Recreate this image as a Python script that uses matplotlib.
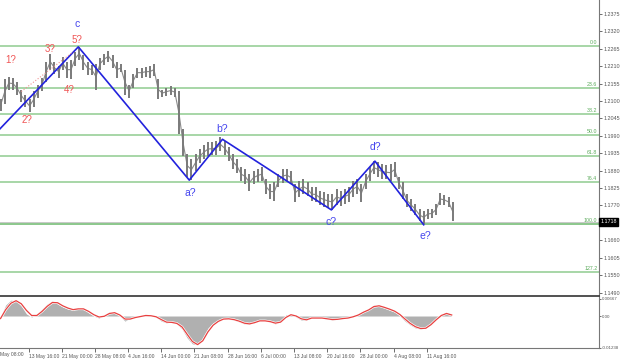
import numpy as np
import matplotlib
matplotlib.use('Agg')
import matplotlib.pyplot as plt
import matplotlib.transforms as mtransforms

# H4 bars, one sample every 4 bars (high / low)
bar_step = 4
highs = [1.2105, 1.2168, 1.2177, 1.2174, 1.2161, 1.2136, 1.2120, 1.2105, 1.2130, 1.2152,
         1.2174, 1.2224, 1.2249, 1.2224, 1.2212, 1.2240, 1.2224, 1.2230, 1.2256, 1.2271,
         1.2246, 1.2224, 1.2215, 1.2218, 1.2237, 1.2249, 1.2259, 1.2246, 1.2224, 1.2218,
         1.2199, 1.2152, 1.2186, 1.2205, 1.2205, 1.2208, 1.2212, 1.2218, 1.2168, 1.2136,
         1.2142, 1.2146, 1.2142, 1.2130, 1.2010, 1.1932, 1.1916, 1.1932, 1.1948, 1.1960,
         1.1970, 1.1970, 1.1973, 1.1985, 1.1973, 1.1954, 1.1932, 1.1916, 1.1891, 1.1885,
         1.1869, 1.1878, 1.1885, 1.1891, 1.1853, 1.1838, 1.1844, 1.1869, 1.1885, 1.1885,
         1.1878, 1.1838, 1.1847, 1.1853, 1.1844, 1.1828, 1.1828, 1.1816, 1.1812, 1.1806,
         1.1806, 1.1822, 1.1816, 1.1822, 1.1828, 1.1847, 1.1853, 1.1838, 1.1869, 1.1891,
         1.1910, 1.1907, 1.1900, 1.1897, 1.1900, 1.1907, 1.1860, 1.1844, 1.1806, 1.1790,
         1.1775, 1.1759, 1.1753, 1.1759, 1.1759, 1.1775, 1.1809, 1.1803, 1.1797, 1.1781]
lows = [1.2067, 1.2089, 1.2136, 1.2136, 1.2120, 1.2098, 1.2080, 1.2064, 1.2080, 1.2111,
        1.2130, 1.2161, 1.2199, 1.2186, 1.2174, 1.2199, 1.2174, 1.2168, 1.2212, 1.2230,
        1.2199, 1.2183, 1.2183, 1.2136, 1.2199, 1.2215, 1.2224, 1.2205, 1.2174, 1.2190,
        1.2120, 1.2111, 1.2142, 1.2174, 1.2174, 1.2177, 1.2174, 1.2180, 1.2105, 1.2114,
        1.2117, 1.2120, 1.2114, 1.1995, 1.1926, 1.1860, 1.1850, 1.1878, 1.1904, 1.1916,
        1.1926, 1.1929, 1.1929, 1.1941, 1.1929, 1.1910, 1.1885, 1.1872, 1.1847, 1.1838,
        1.1816, 1.1838, 1.1844, 1.1847, 1.1806, 1.1790, 1.1784, 1.1828, 1.1841, 1.1847,
        1.1838, 1.1781, 1.1797, 1.1806, 1.1800, 1.1784, 1.1781, 1.1772, 1.1765, 1.1762,
        1.1756, 1.1772, 1.1768, 1.1775, 1.1781, 1.1797, 1.1806, 1.1781, 1.1822, 1.1847,
        1.1869, 1.1860, 1.1853, 1.1853, 1.1847, 1.1860, 1.1822, 1.1790, 1.1765, 1.1753,
        1.1740, 1.1721, 1.1712, 1.1727, 1.1731, 1.1740, 1.1772, 1.1772, 1.1765, 1.1721]
last_price = 1.1718

# wave count (bar index, price)
wave_x = [-2, 75, 182, 214, 319, 361, 408]
wave_y = [1.2007, 1.2271, 1.1850, 1.1979, 1.1756, 1.1910, 1.1709]
wave_labels = ['c', 'a?', 'b?', 'c?', 'd?', 'e?']
wave_lab_x = [74, 183, 214, 319, 361, 410]
wave_lab_y = [1.2344, 1.1809, 1.2010, 1.1718, 1.1954, 1.1674]
sub_labels = ['1?', '2?', '3?', '4?', '5?']
sub_lab_x = [10, 26, 48, 66, 74]
sub_lab_y = [1.2230, 1.2039, 1.2265, 1.2136, 1.2293]
chan_x = [20, 70]
chan_y = [1.2130, 1.2255]

# fibonacci grid
fib_high = 1.2274
fib_low = 1.1712
fib_levels = [0.0, 23.6, 38.2, 50.0, 61.8, 76.4, 100.0, 127.2]

price_ticks = [1.2375, 1.2320, 1.2265, 1.2210, 1.2155, 1.2100, 1.2045, 1.1990, 1.1935,
               1.1880, 1.1825, 1.1770, 1.1660, 1.1605, 1.1550, 1.1495]
price_tick_labels = ['1.2375', '1.2320', '1.2265', '1.2210', '1.2155', '1.2100', '1.2045',
                     '1.1990', '1.1935', '1.1880', '1.1825', '1.1770', '1.1660', '1.1605',
                     '1.1550', '1.1490']

# MACD, one sample every 5 bars
osc_step = 5
macd_hist = [-0.0004, 0.0043, 0.0062, 0.0059, 0.0039, 0.0008, -0.0004, 0.0008, 0.0027, 0.0047,
             0.0059, 0.0047, 0.0035, 0.0027, 0.0023, 0.0031, 0.0027, 0.0012, 0.0000, -0.0008,
             0.0004, 0.0016, 0.0012, 0.0000, -0.0020, -0.0008, -0.0004, 0.0000, 0.0004, 0.0000,
             -0.0004, -0.0020, -0.0027, -0.0023, -0.0031, -0.0051, -0.0086, -0.0109, -0.0113, -0.0086,
             -0.0047, -0.0027, -0.0016, -0.0008, -0.0012, -0.0016, -0.0023, -0.0031, -0.0031, -0.0023,
             -0.0016, -0.0020, -0.0023, -0.0031, -0.0020, 0.0004, 0.0008, -0.0004, -0.0016, -0.0016,
             -0.0004, -0.0008, -0.0008, -0.0012, -0.0016, -0.0012, -0.0008, -0.0008, 0.0000, 0.0008,
             0.0020, 0.0027, 0.0043, 0.0039, 0.0031, 0.0023, 0.0016, 0.0000, -0.0020, -0.0035,
             -0.0047, -0.0051, -0.0047, -0.0027, -0.0008, 0.0008, 0.0012, 0.0000]
macd_signal = [-0.0010, 0.0025, 0.0050, 0.0060, 0.0048, 0.0022, 0.0002, 0.0002, 0.0018, 0.0038,
               0.0053, 0.0052, 0.0040, 0.0031, 0.0025, 0.0028, 0.0028, 0.0018, 0.0005, -0.0004,
               -0.0001, 0.0010, 0.0013, 0.0004, -0.0012, -0.0012, -0.0006, -0.0002, 0.0002, 0.0001,
               -0.0003, -0.0014, -0.0024, -0.0025, -0.0029, -0.0043, -0.0072, -0.0100, -0.0112, -0.0097,
               -0.0062, -0.0036, -0.0021, -0.0012, -0.0011, -0.0014, -0.0020, -0.0028, -0.0031, -0.0026,
               -0.0019, -0.0019, -0.0022, -0.0028, -0.0024, -0.0006, 0.0005, 0.0000, -0.0011, -0.0015,
               -0.0008, -0.0008, -0.0008, -0.0011, -0.0014, -0.0013, -0.0010, -0.0008, -0.0003, 0.0004,
               0.0015, 0.0024, 0.0037, 0.0040, 0.0034, 0.0027, 0.0019, 0.0006, -0.0012, -0.0029,
               -0.0042, -0.0049, -0.0048, -0.0034, -0.0015, 0.0002, 0.0010, 0.0004]
osc_ticks = [0.00667, 0.0, -0.01238]
osc_tick_labels = ['0.00667', '0.00', '-0.01238']

time_labels = ['13 May 16:00', '21 May 00:00', '28 May 08:00', '4 Jun 16:00', '14 Jun 00:00',
               '21 Jun 08:00', '28 Jun 16:00', '6 Jul 00:00', '13 Jul 08:00', '20 Jul 16:00',
               '28 Jul 00:00', '4 Aug 08:00', '11 Aug 16:00']
time_ticks = [27 + 32 * k for k in range(len(time_labels))]

plt.rcParams['font.family'] = ['Liberation Sans', 'DejaVu Sans']

axis_col = '#555555'
fib_col = '#8fcc8f'
wave_col = '#2222dd'
lab_blue = '#4444ee'
lab_red = '#f05555'
tick_fs = 3.9

fig = plt.figure(figsize=(6.2, 3.61), dpi=100)
ax = fig.add_axes([0, 0.18006, 0.9661, 0.81994])
ax2 = fig.add_axes([0, 0.03601, 0.9661, 0.14128], sharex=ax)

# price bars
bx = np.arange(len(highs)) * bar_step
mid = (np.array(highs) + np.array(lows)) / 2
ax.plot(bx, mid, color='#8a8a8a', lw=0.8, zorder=2)
ax.vlines(bx, lows, highs, color='#7a7a7a', lw=1.4, zorder=3)

# fibonacci levels
trans = mtransforms.blended_transform_factory(ax.transAxes, ax.transData)
for lv in fib_levels:
    p = fib_high - lv / 100 * (fib_high - fib_low)
    ax.axhline(p, color=fib_col if lv != 100.0 else '#6cb86c', lw=1.1, zorder=1)
    ax.text(0.997, p + 0.0003, f'{lv:.1f}', transform=trans, ha='right', va='bottom',
            fontsize=3.8, color='#5aaa5a')

ax.axhline(last_price, color='#c8c8c8', lw=0.7, zorder=1)

# wave lines and labels
ax.plot(wave_x, wave_y, color=wave_col, lw=1.2, zorder=4)
ax.plot(chan_x, chan_y, color='#f09090', lw=0.8, ls=':', zorder=4)
for t, x, y in zip(wave_labels, wave_lab_x, wave_lab_y):
    ax.text(x, y, t, color=lab_blue, fontsize=7.5, ha='center', va='center', zorder=5)
for t, x, y in zip(sub_labels, sub_lab_x, sub_lab_y):
    ax.text(x, y, t, color=lab_red, fontsize=7, ha='center', va='center', zorder=5)

ax.set_xlim(-0.5, 577)
ax.set_ylim(1.1484, 1.2419)
ax.yaxis.tick_right()
ax.set_yticks(price_ticks)
ax.set_yticklabels(price_tick_labels)
ax.tick_params(axis='y', labelsize=tick_fs, colors=axis_col, length=2, width=0.6, pad=1)
ax.tick_params(axis='x', bottom=False, labelbottom=False)
for s in ['left', 'top']:
    ax.spines[s].set_visible(False)
ax.spines['right'].set_color('#777777')
ax.spines['bottom'].set_color('#333333')
ax.spines['bottom'].set_linewidth(1.2)

ax.text(1.002, last_price, f'{last_price:.4f}', transform=trans, color='white',
        fontsize=tick_fs, va='center', ha='left',
        bbox=dict(boxstyle='square,pad=0.2', fc='black', ec='black'))

# oscillator
ox = np.arange(len(macd_hist)) * osc_step
ax2.fill_between(ox, 0, macd_hist, color='#b0b0b0', lw=0)
ax2.plot(ox, macd_signal, color='white', lw=1.8)
ax2.plot(ox, macd_signal, color='#e84040', lw=0.9)
ax2.set_ylim(-0.01254, 0.00745)
ax2.yaxis.tick_right()
ax2.set_yticks(osc_ticks)
ax2.set_yticklabels(osc_tick_labels)
ax2.tick_params(axis='y', labelsize=3.2, colors=axis_col, length=1.5, width=0.6, pad=0.5)
ax2.set_xticks(time_ticks)
ax2.set_xticklabels(time_labels, ha='left')
ax2.tick_params(axis='x', labelsize=3.6, colors=axis_col, length=3, width=0.6, pad=1.5)
for s in ['left', 'top']:
    ax2.spines[s].set_visible(False)
ax2.spines['right'].set_color('#777777')
ax2.spines['bottom'].set_color('#777777')
ax2.text(0.0, -0.075, 'May 08:00', transform=ax2.transAxes, fontsize=3.6, color=axis_col,
         ha='left', va='top')

fig.savefig('out.png', dpi=100, facecolor='white')
